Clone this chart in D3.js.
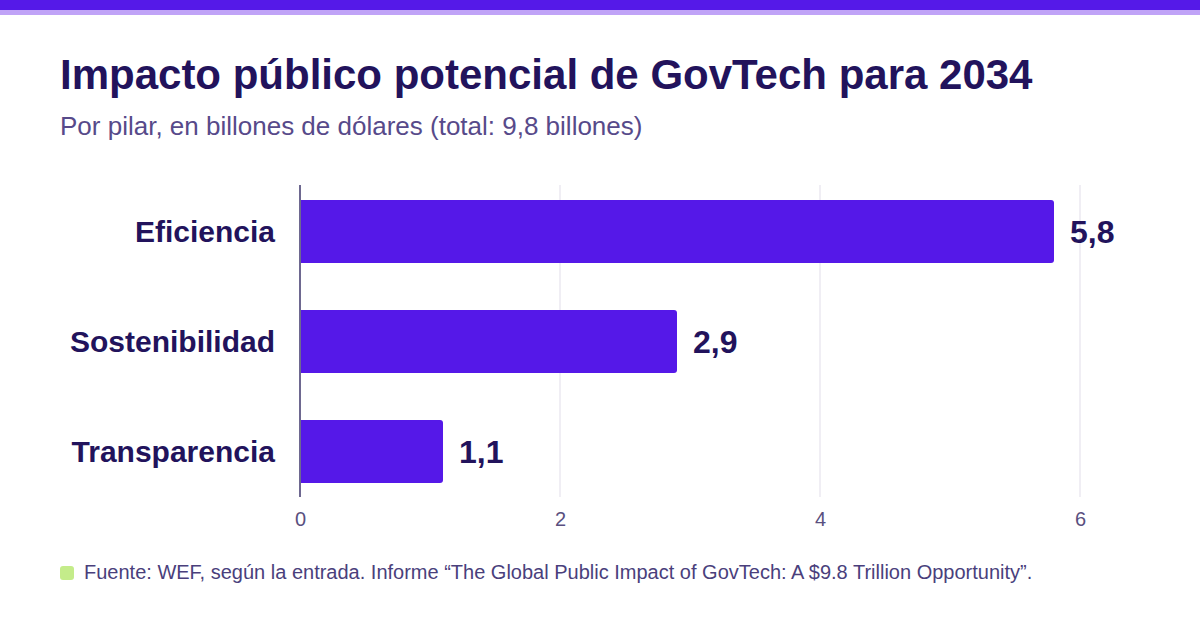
<!DOCTYPE html>
<html lang="es">
<head>
  <meta charset="utf-8">
  <title>GovTech</title>
  <script src="https://d3js.org/d3.v7.min.js"></script>
  <style>
    body { margin: 0; background: #fff; }
    svg { display: block; font-family: "Liberation Sans", Arial, sans-serif; }
  </style>
</head>
<body>

<svg width="1200" height="630"></svg>

<script>
  // Data
  const pillars = ["Eficiencia", "Sostenibilidad", "Transparencia"];
  const values = [5.8, 2.9, 1.1];
  const ticks = [0, 2, 4, 6];

  const svg = d3.select("svg");
  const fmt = v => d3.format(".1f")(v).replace(".", ",");

  // Top stripes
  svg.append("rect").attr("x", 0).attr("y", 0).attr("width", 1200).attr("height", 10).attr("fill", "#5519e8");
  svg.append("rect").attr("x", 0).attr("y", 10).attr("width", 1200).attr("height", 5).attr("fill", "#c0a3f7");

  // Titles
  svg.append("text").attr("x", 60).attr("y", 89)
    .attr("font-size", 42).attr("font-weight", "bold").attr("fill", "#22135c")
    .text("Impacto público potencial de GovTech para 2034");
  svg.append("text").attr("x", 60).attr("y", 135)
    .attr("font-size", 26).attr("fill", "#574a8a")
    .text("Por pilar, en billones de dólares (total: 9,8 billones)");

  // Scales
  const x = d3.scaleLinear().domain([0, 6]).range([300, 1080]);
  const y = d3.scaleBand().domain(pillars).range([176.5, 506.5])
    .paddingInner(0.427).paddingOuter(0.2135);

  // Grid
  svg.append("g").selectAll("line").data(ticks.slice(1)).join("line")
    .attr("x1", d => x(d)).attr("x2", d => x(d))
    .attr("y1", 185).attr("y2", 497)
    .attr("stroke", "#ebe9f0").attr("stroke-width", 1.5);

  // Bars (rounded right end)
  const r = 3;
  svg.append("g").selectAll("path").data(pillars).join("path")
    .attr("d", (d, i) => {
      const x0 = x(0), x1 = x(values[i]), y0 = y(d), h = y.bandwidth();
      return `M${x0},${y0}H${x1 - r}Q${x1},${y0} ${x1},${y0 + r}V${y0 + h - r}Q${x1},${y0 + h} ${x1 - r},${y0 + h}H${x0}Z`;
    })
    .attr("fill", "#5518e8");

  // Value labels
  svg.append("g").selectAll("text").data(pillars).join("text")
    .attr("x", (d, i) => x(values[i]) + 16)
    .attr("y", d => y(d) + y.bandwidth() / 2)
    .attr("dy", "0.36em")
    .attr("font-size", 32).attr("font-weight", "bold").attr("fill", "#22135c")
    .text((d, i) => fmt(values[i]));

  // Category labels
  svg.append("g").selectAll("text").data(pillars).join("text")
    .attr("x", 275)
    .attr("y", d => y(d) + y.bandwidth() / 2)
    .attr("dy", "0.36em")
    .attr("text-anchor", "end")
    .attr("font-size", 30).attr("font-weight", "bold").attr("fill", "#22135c")
    .text(d => d);

  // Axis line
  svg.append("line").attr("x1", x(0)).attr("x2", x(0)).attr("y1", 185).attr("y2", 497)
    .attr("stroke", "#6e6890").attr("stroke-width", 2);

  // X axis
  const xAxis = svg.append("g").attr("transform", "translate(0,512)")
    .call(d3.axisBottom(x).tickValues(ticks).tickFormat(d3.format("d")).tickSize(0).tickPadding(0));
  xAxis.select(".domain").remove();
  xAxis.selectAll("text")
    .attr("font-family", "Liberation Sans, Arial, sans-serif")
    .attr("font-size", 20).attr("fill", "#5a5080");

  // Footer
  svg.append("rect").attr("x", 60).attr("y", 566).attr("width", 14).attr("height", 14)
    .attr("rx", 3).attr("fill", "#c4ec8a");
  svg.append("text").attr("x", 84).attr("y", 579)
    .attr("font-size", 20).attr("fill", "#4a3f7c")
    .text("Fuente: WEF, según la entrada. Informe “The Global Public Impact of GovTech: A $9.8 Trillion Opportunity”.");
</script>
</body>
</html>
